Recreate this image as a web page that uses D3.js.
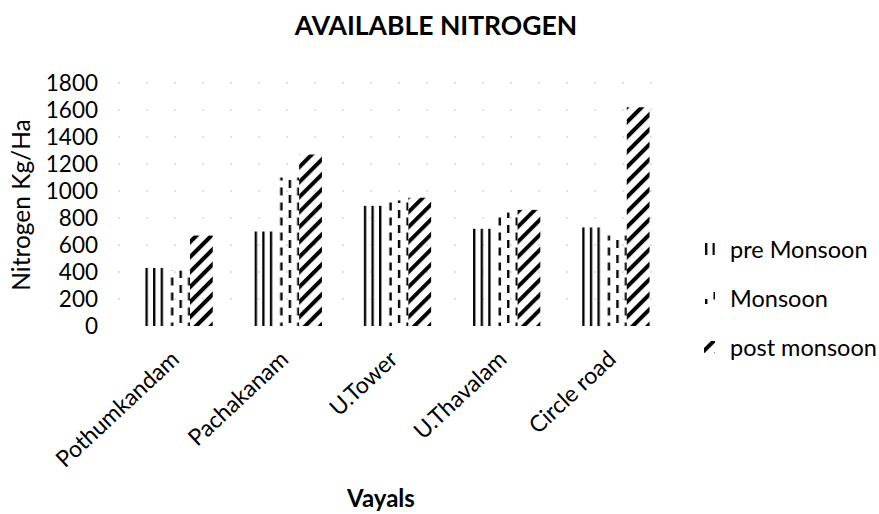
<!DOCTYPE html>
<html>
<head>
<meta charset="utf-8">
<script src="https://cdn.jsdelivr.net/npm/d3@7"></script>
<style>
  html, body { margin: 0; padding: 0; background: #fff; }
  svg { display: block; font-family: Lato, "Open Sans", sans-serif; }
</style>
</head>
<body>
<svg id="chart" width="879" height="514"></svg>
<script>
// Sampling sites (vayals) and available nitrogen per season, kg/ha
const sites = ["Pothumkandam", "Pachakanam", "U.Tower", "U.Thavalam", "Circle road"];
const seasons = ["pre Monsoon", "Monsoon", "post monsoon"];
const preMonsoon = [430, 700, 890, 720, 730];
const monsoon = [410, 1100, 930, 840, 670];
const postMonsoon = [670, 1270, 950, 860, 1620];
const yTicks = [0, 200, 400, 600, 800, 1000, 1200, 1400, 1600, 1800];

const seriesValues = [preMonsoon, monsoon, postMonsoon];
const rows = sites.map((s, i) => ({ site: s, values: seriesValues.map(v => v[i]) }));

const svg = d3.select("#chart");
const defs = svg.append("defs");

// Hatch fills: solid verticals, staggered dashed verticals, wide upward diagonals
const pVert = defs.append("pattern").attr("id", "pat0")
  .attr("patternUnits", "userSpaceOnUse").attr("width", 7.6).attr("height", 10);
pVert.append("rect").attr("x", 1).attr("y", 0).attr("width", 2.3).attr("height", 10).attr("fill", "#000");

const pDash = defs.append("pattern").attr("id", "pat1")
  .attr("patternUnits", "userSpaceOnUse").attr("width", 17).attr("height", 15);
pDash.append("rect").attr("x", 1).attr("y", 0).attr("width", 2.4).attr("height", 8).attr("fill", "#000");
pDash.append("rect").attr("x", 9.5).attr("y", 7.5).attr("width", 2.4).attr("height", 8).attr("fill", "#000");
pDash.append("rect").attr("x", 9.5).attr("y", -7.5).attr("width", 2.4).attr("height", 8).attr("fill", "#000");

const pDiag = defs.append("pattern").attr("id", "pat2")
  .attr("patternUnits", "userSpaceOnUse").attr("width", 10.6).attr("height", 10.6)
  .attr("patternTransform", "rotate(-45)");
pDiag.append("rect").attr("x", 0).attr("y", 0).attr("width", 10.6).attr("height", 4).attr("fill", "#000");

const x0 = d3.scaleBand().domain(sites).range([124, 670]).paddingInner(0.375).paddingOuter(0.1875);
const x1 = d3.scaleBand().domain(d3.range(seasons.length)).range([0, x0.bandwidth()]);
const y = d3.scaleLinear().domain([0, 1800]).range([326, 83]);

// Faint dotted gridlines
svg.append("g").selectAll("line").data(yTicks.slice(1)).join("line")
  .attr("x1", 118).attr("x2", 672)
  .attr("y1", d => y(d)).attr("y2", d => y(d))
  .attr("stroke", "#c4c4c4").attr("stroke-width", 1)
  .attr("stroke-dasharray", "2,26");

// Y axis (labels only)
const yAxis = svg.append("g").attr("transform", "translate(100,0)")
  .call(d3.axisLeft(y).tickValues(yTicks).tickFormat(d3.format("d")).tickSize(0).tickPadding(2));
yAxis.select(".domain").remove();
yAxis.selectAll("text").attr("font-size", 22.5).attr("fill", "#000")
  .attr("font-family", "Lato, sans-serif");

// Bars
svg.append("g").selectAll("g").data(rows).join("g")
  .attr("transform", d => `translate(${x0(d.site)},0)`)
  .selectAll("rect").data(d => d.values).join("rect")
  .attr("x", (d, i) => x1(i))
  .attr("width", x1.bandwidth())
  .attr("y", d => y(d))
  .attr("height", d => y(0) - y(d))
  .attr("fill", (d, i) => `url(#pat${i})`);

// X axis labels, rotated and anchored at their group centres
const xAxis = svg.append("g")
  .call(d3.axisBottom(x0).tickSize(0).tickPadding(0));
xAxis.select(".domain").remove();
xAxis.selectAll(".tick").attr("transform", d => `translate(${x0(d) + x0.bandwidth() / 2 + 2},${y(0) + 35})`);
xAxis.selectAll("text")
  .attr("font-size", 23).attr("fill", "#000").attr("font-family", "Lato, sans-serif")
  .attr("text-anchor", "end").attr("x", 0).attr("y", 0).attr("dy", 0)
  .attr("transform", "rotate(-43)");

// Title and axis titles
svg.append("text").attr("x", 436).attr("y", 35).attr("text-anchor", "middle")
  .attr("font-size", 26.5).attr("font-weight", "bold").text("AVAILABLE NITROGEN");

svg.append("text").attr("transform", "translate(30,205) rotate(-90)")
  .attr("text-anchor", "middle").attr("font-size", 24.5).text("Nitrogen Kg/Ha");

svg.append("text").attr("x", 381).attr("y", 507).attr("text-anchor", "middle")
  .attr("font-size", 24).attr("font-weight", "bold").text("Vayals");

// Legend
const legend = svg.append("g").selectAll("g").data(seasons).join("g")
  .attr("transform", (d, i) => `translate(704,${250 + i * 49})`);
legend.append("rect").attr("x", 0).attr("y", -7).attr("width", 11).attr("height", 12)
  .attr("fill", (d, i) => `url(#pat${i})`);
legend.append("text").attr("x", 26).attr("y", 0).attr("dy", "0.35em")
  .attr("font-size", 23.5).text(d => d);
</script>
</body>
</html>
